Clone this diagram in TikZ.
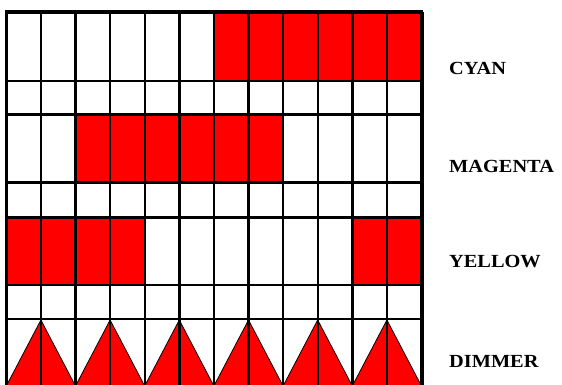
\documentclass[tikz,border=0pt]{standalone}
\usepackage{fontspec}
\usepackage{graphicx}
\setmainfont{Liberation Serif}
\newcommand{\widelabel}[1]{\scalebox{1.1}[1]{#1}}
\begin{document}
\begin{tikzpicture}[x=1pt, y=-1pt, font=\bfseries\fontsize{18.5}{22}\selectfont]
        \useasboundingbox (0,0) rectangle (562,385);
        \def\xo{6.3}
        \def\cw{34.6}

        % 红色格子 CYAN
        \foreach \i in {6,...,11} {
            \fill[red] ({\xo+\cw*\i},12) rectangle ++(\cw,69);
        }
        % MAGENTA
        \foreach \i in {2,...,7} {
            \fill[red] ({\xo+\cw*\i},114.5) rectangle ++(\cw,68);
        }
        % YELLOW
        \foreach \i in {0,1,2,3,10,11} {
            \fill[red] ({\xo+\cw*\i},182.5+35) rectangle ++(\cw,67.5);
        }
        % DIMMER 三角形
        \foreach \i in {0,2,...,10} {
            \filldraw[fill=red, draw=black, line width=0.8pt]
                ({\xo+\cw*\i},386) -- ({\xo+\cw*(\i+1)},320) -- ({\xo+\cw*(\i+2)},386) -- cycle;
        }

        % 网格
        \foreach \i in {0,...,12} {
            \draw[line width=2.4pt] ({\xo+\cw*\i},12) -- ({\xo+\cw*\i},392);
        }
        \foreach \y in {81,114.5,182.5,217.5,285,319} {
            \draw[line width=2.4pt] (\xo,\y) -- ({\xo+\cw*12},\y);
        }
        \draw[line width=4pt] (\xo-1.2,12) -- ({\xo+\cw*12+1.9},12);
        \draw[line width=3.8pt] ({\xo+\cw*12+0.7},12) -- ({\xo+\cw*12+0.7},392);

        % 标签
        \node[anchor=west, inner sep=0pt] (cyan) at (449,68) {\widelabel{CYAN}};
        \node[anchor=west, inner sep=0pt] (magenta) at (449,166) {\widelabel{MAGENTA}};
        \node[anchor=west, inner sep=0pt] (yellow) at (449,262) {\widelabel{YELLOW}};
        \node[anchor=west, inner sep=0pt] (dimmer) at (449,361.5) {\widelabel{DIMMER}};
    \end{tikzpicture}
\end{document}
